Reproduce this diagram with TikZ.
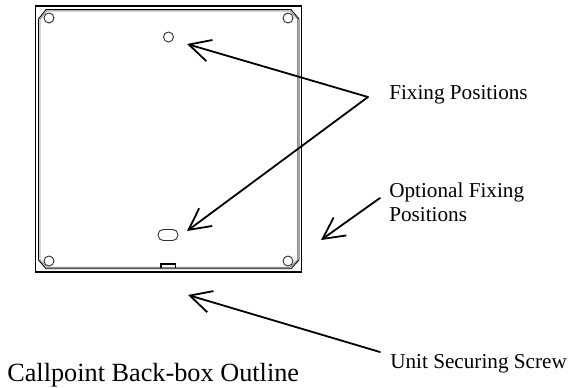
\documentclass[tikz,border=0pt]{standalone}
\usepackage{fontspec}
\usepackage{xcolor}
\usepackage{tikz}
\usetikzlibrary{arrows.meta}
\setmainfont{Liberation Serif}

\begin{document}
\begin{tikzpicture}[x = 0.75pt,
                    y = -0.75pt,
                    color = {black}]

  \useasboundingbox (0, 0) rectangle (568, 387);

  % DEF POINTS
  \coordinate (box_a) at (35.5, 6);
  \coordinate (box_b) at (301.5, 272);
  \coordinate (tip_hole) at (187, 44);
  \coordinate (tip_slot) at (187, 231);
  \coordinate (tip_option) at (321, 240);
  \coordinate (tip_screw) at (188, 295);
  \coordinate (tail_fix) at (368, 97);
  \coordinate (tail_option) at (380, 198);
  \coordinate (tail_screw) at (380, 352);

  % STYLES
  \definecolor{rimcolor}{rgb}{ 0.55,0.55,0.55 }
  \tikzstyle{outlinestyle} = [draw=black, line width=0.85pt, line join=miter]
  \tikzstyle{rimstyle} = [draw=black, line width=0.65pt, line join=round]
  \tikzstyle{rimshade} = [draw=rimcolor, line width=0.7pt, line join=round]
  \tikzstyle{holestyle} = [draw=black!80, line width=0.7pt, fill=white]
  \tikzstyle{arrowstyle} = [draw=black, line width=1.35pt, line cap=round, -{Straight Barb[length=16pt, width=16.5pt]}]
  \tikzstyle{labelstyle} = [inner sep=0pt, anchor=base west, font=\fontsize{15.9}{18}\selectfont, align=left]

  % OUTLINE
  \draw[outlinestyle] (box_a) rectangle (box_b);
  \draw[rimshade] (40, 19) -- (47, 10.8) -- (290, 10.8) -- (297.5, 19) -- (297.5, 260) -- (290, 267.3) -- (47, 267.3) -- (40, 260) -- cycle;
  \draw[rimstyle] (38.5, 19) -- (46, 9.5) -- (291, 9.5) -- (299, 19) -- (299, 260) -- (291, 268.7) -- (46, 268.7) -- (38.5, 260) -- cycle;

  % HOLES
  \foreach \hx in {49, 288} {
    \foreach \hy in {18, 261} {
      \draw[holestyle] (\hx, \hy) circle (5);
    }
  }
  \draw[holestyle] (168.5, 37) circle (5);
  \draw[holestyle, rounded corners=4pt] (158, 229.5) rectangle (178, 240.5);
  \draw[outlinestyle] (161, 268) -- (161, 264) -- (175.5, 264) -- (175.5, 268);

  % LABELS
  \node[labelstyle] (lab_fix) at (389, 99) {Fixing Positions};
  \node[labelstyle, anchor=north west] (lab_option) at (389, 183) {Optional Fixing\\Positions};
  \node[labelstyle] (lab_screw) at (390, 368) {Unit Securing Screw};
  \node[labelstyle, font=\fontsize{19.7}{22}\selectfont] (lab_title) at (7, 381) {Callpoint Back-box Outline};

  % ARROWS
  \draw[arrowstyle] (tail_fix) -- (tip_hole);
  \draw[arrowstyle] (tail_fix) -- (tip_slot);
  \draw[arrowstyle] (tail_option) -- (tip_option);
  \draw[arrowstyle] (tail_screw) -- (tip_screw);

\end{tikzpicture}
\end{document}
